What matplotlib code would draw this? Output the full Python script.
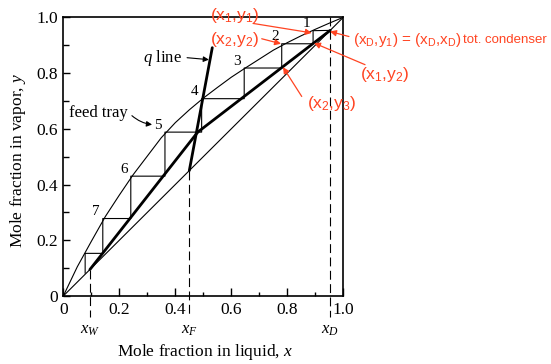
import matplotlib.pyplot as plt
from matplotlib.ticker import MultipleLocator

# fonts: book text in a Times-like serif, red notes in an Arial-like sans
plt.rcParams['font.family'] = 'Liberation Serif'
plt.rcParams['mathtext.fontset'] = 'custom'
plt.rcParams['mathtext.rm'] = 'Liberation Sans'
plt.rcParams['mathtext.it'] = 'Liberation Serif:italic'

# -------------------------------
# Data
# -------------------------------
# equilibrium curve
eq_x = [0.0, 0.05, 0.10, 0.15, 0.20, 0.25, 0.30, 0.35, 0.40, 0.45, 0.50,
        0.55, 0.60, 0.65, 0.70, 0.75, 0.80, 0.85, 0.90, 0.95, 1.0]
eq_y = [0.0, 0.105, 0.196, 0.285, 0.362, 0.436, 0.502, 0.568, 0.622, 0.668, 0.710,
        0.748, 0.785, 0.818, 0.850, 0.882, 0.909, 0.934, 0.957, 0.979, 1.0]

# compositions
x_w = 0.095
x_f = 0.45
x_d = 0.953

# operating lines (meet on the q line)
rect_x = [x_d, 0.48]
rect_y = [x_d, 0.588]
strip_x = [0.48, x_w]
strip_y = [0.588, x_w]

# q line
q_x = [x_f, 0.532]
q_y = [x_f, 0.891]

# stage corners on the equilibrium curve
stage_x = [0.892, 0.780, 0.646, 0.494, 0.363, 0.241, 0.141, 0.078]
stage_y = [0.952, 0.905, 0.818, 0.708, 0.588, 0.430, 0.278, 0.153]
stage_end_y = 0.082
stage_labels = ['1', '2', '3', '4', '5', '6', '7']

tick_vals = [0, 0.2, 0.4, 0.6, 0.8, 1.0]
tick_labels = ['0', '0.2', '0.4', '0.6', '0.8', '1.0']

red = '#ff4422'

# -------------------------------
# Figure
# -------------------------------
fig = plt.figure(figsize=(5.51, 3.64), dpi=100)
ax = fig.add_axes([0.1149, 0.1868, 0.5082, 0.7657])
ax.set_xlim(0, 1)
ax.set_ylim(0, 1)

# diagonal and equilibrium curve
ax.plot([0, 1], [0, 1], color='black', lw=0.8)
ax.plot(eq_x, eq_y, color='black', lw=0.8)

# operating lines and q line
ax.plot(rect_x, rect_y, color='black', lw=2.0, solid_capstyle='round')
ax.plot(strip_x, strip_y, color='black', lw=2.0, solid_capstyle='round')
ax.plot(q_x, q_y, color='black', lw=2.0, solid_capstyle='round')

# stairs
sx = [x_d]
sy = [x_d]
for i in range(len(stage_x)):
    nxt = stage_y[i + 1] if i + 1 < len(stage_y) else stage_end_y
    sx += [stage_x[i], stage_x[i]]
    sy += [stage_y[i], nxt]
ax.plot(sx, sy, color='black', lw=0.8)

for lab, x, y in zip(stage_labels, stage_x, stage_y):
    ax.annotate(lab, xy=(x, y), xytext=(-5, 5), textcoords='offset points',
                ha='center', va='center', fontsize=11)

# dashed composition markers
dash = (0, (8, 4))
ax.plot([x_w, x_w], [x_w, -0.075], color='black', lw=0.8, ls=dash, clip_on=False)
ax.plot([x_f, x_f], [x_f, -0.075], color='black', lw=0.8, ls=dash, clip_on=False)
ax.plot([x_d, x_d], [1.0, -0.075], color='black', lw=0.8, ls=dash, clip_on=False)
ax.text(x_w, -0.122, '$x_W$', ha='center', va='center', fontsize=12)
ax.text(x_f, -0.122, '$x_F$', ha='center', va='center', fontsize=12)
ax.text(x_d, -0.122, '$x_D$', ha='center', va='center', fontsize=12)

# q line / feed tray notes
black_arrow = dict(arrowstyle='-|>', color='black', lw=0.8, mutation_scale=8,
                   shrinkA=0, shrinkB=0)
ax.text(0.3525, 0.855, '$q$ line', ha='center', va='center', fontsize=12)
ax.annotate('', xy=(0.520, 0.848), xytext=(0.442, 0.855), arrowprops=black_arrow)
ax.text(0.124, 0.658, 'feed tray', ha='center', va='center', fontsize=12)
ax.annotate('', xy=(0.317, 0.615), xytext=(0.245, 0.647),
            arrowprops=dict(black_arrow, connectionstyle='arc3,rad=0.15'))

# axes styling
for s in ax.spines.values():
    s.set_linewidth(1.2)
ax.set_xticks(tick_vals)
ax.set_xticklabels(tick_labels)
ax.set_yticks(tick_vals)
ax.set_yticklabels(tick_labels)
ax.xaxis.set_minor_locator(MultipleLocator(0.1))
ax.yaxis.set_minor_locator(MultipleLocator(0.1))
ax.tick_params(axis='both', which='both', direction='in', width=1, labelsize=12.5)
ax.tick_params(axis='x', which='major', length=6, pad=4)
ax.tick_params(axis='x', which='minor', length=3)
ax.tick_params(axis='y', which='major', length=5, pad=4)
ax.tick_params(axis='y', which='minor', length=4)

fig.text(0.033, 0.56, 'Mole fraction in vapor, $y$', rotation=90,
         ha='center', va='center', fontsize=12.5)
fig.text(0.372, 0.032, 'Mole fraction in liquid, $x$', ha='center', va='center',
         fontsize=12.5)

# red annotations
red_arrow = dict(arrowstyle='-|>', color=red, lw=0.9, mutation_scale=9,
                 shrinkA=0, shrinkB=0)
sans = 'Liberation Sans'
ax.text(0.613, 1.006, r'(x$_\mathrm{1}$,y$_\mathrm{1}$)', color=red, family=sans,
        fontsize=12.5, ha='center', va='center', clip_on=False)
ax.text(0.611, 0.922, r'(x$_\mathrm{2}$,y$_\mathrm{2}$)', color=red, family=sans,
        fontsize=12.5, ha='center', va='center', clip_on=False)
ax.text(1.035, 0.917, r'(x$_\mathrm{D}$,y$_\mathrm{1}$) = (x$_\mathrm{D}$,x$_\mathrm{D}$)',
        color=red, family=sans, fontsize=11, ha='left', va='center', clip_on=False)
ax.text(1.428, 0.917, 'tot. condenser', color=red, family=sans, fontsize=9.5,
        ha='left', va='center', clip_on=False)
ax.text(1.149, 0.794, r'(x$_\mathrm{1}$,y$_\mathrm{2}$)', color=red, family=sans,
        fontsize=12.5, ha='center', va='center', clip_on=False)
ax.text(0.960, 0.690, r'(x$_\mathrm{2}$,y$_\mathrm{3}$)', color=red, family=sans,
        fontsize=12.5, ha='center', va='center', clip_on=False)

ax.annotate('', xy=(0.887, 0.944), xytext=(0.6775, 0.978), arrowprops=red_arrow,
            annotation_clip=False)
ax.annotate('', xy=(0.7775, 0.905), xytext=(0.7086, 0.923), arrowprops=red_arrow,
            annotation_clip=False)
ax.annotate('', xy=(0.9525, 0.949), xytext=(1.020, 0.931), arrowprops=red_arrow,
            annotation_clip=False)
ax.annotate('', xy=(0.8954, 0.9076), xytext=(1.0775, 0.830), arrowprops=red_arrow,
            annotation_clip=False)
ax.annotate('', xy=(0.7846, 0.821), xytext=(0.8514, 0.716), arrowprops=red_arrow,
            annotation_clip=False)

fig.savefig('out.png', dpi=100)
